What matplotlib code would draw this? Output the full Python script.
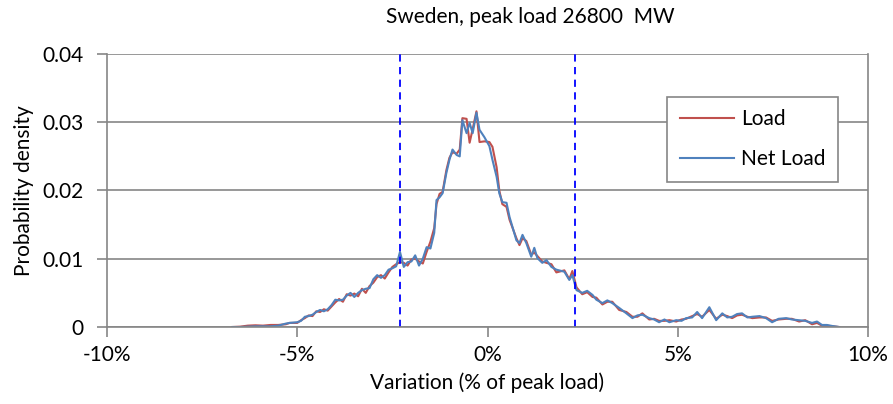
import matplotlib
matplotlib.use('Agg')
import matplotlib.pyplot as plt

# variation in % of peak load
x = [-6.7, -6.5, -6.3, -6.1, -5.9, -5.7, -5.5, -5.3, -5.2, -5.0, -4.9, -4.8, -4.7,
     -4.6, -4.5, -4.4, -4.3, -4.2, -4.1, -4.0, -3.9, -3.8, -3.7, -3.6, -3.5, -3.4,
     -3.3, -3.2, -3.1, -3.0, -2.9, -2.8, -2.7, -2.6, -2.5, -2.4, -2.3, -2.2, -2.1,
     -2.0, -1.9, -1.8, -1.7, -1.6, -1.5, -1.4, -1.34, -1.26, -1.18, -1.08, -1.0,
     -0.92, -0.81, -0.73, -0.66, -0.55, -0.47, -0.39, -0.29, -0.21, -0.08, 0.05,
     0.13, 0.24, 0.31, 0.39, 0.5, 0.58, 0.76, 0.84, 0.92, 1.02, 1.15, 1.23, 1.31,
     1.44, 1.55, 1.68, 1.81, 2.02, 2.15, 2.23, 2.34, 2.49, 2.62, 2.76, 2.86, 3.02,
     3.15, 3.28, 3.46, 3.65, 3.81, 3.94, 4.07, 4.25, 4.38, 4.51, 4.65, 4.78, 4.96,
     5.1, 5.22, 5.38, 5.51, 5.64, 5.83, 6.01, 6.17, 6.3, 6.43, 6.56, 6.69, 6.83,
     6.96, 7.15, 7.32, 7.48, 7.65, 7.85, 8.0, 8.19, 8.35, 8.53, 8.66, 8.79, 8.92,
     9.06, 9.24]

# probability density, x 1e-3
net_load = [0, 0, 0.05, 0.1, 0.1, 0.1, 0.2, 0.5, 0.6, 0.7, 0.9, 1.5, 1.6,
            1.8, 2.2, 2.5, 2.3, 2.6, 3.2, 4.0, 3.9, 4.0, 4.6, 5.0, 4.4, 5.0,
            5.4, 5.6, 5.7, 7.0, 7.6, 7.2, 7.6, 8.4, 8.6, 8.9, 11.0, 8.8, 9.5,
            9.6, 10.5, 9.0, 10.0, 11.7, 11.5, 13.8, 18.6, 19.0, 19.6, 22.6, 24.5,
            26.0, 25.2, 25.0, 30.3, 28.4, 29.9, 28.4, 31.4, 28.9, 27.8, 26.5,
            24.5, 22.0, 19.6, 18.3, 18.2, 16.1, 12.7, 12.3, 13.5, 12.3, 10.3, 11.6, 10.1,
            9.4, 9.8, 8.8, 8.4, 8.1, 6.9, 7.6, 5.4, 5.0, 5.3, 4.7, 4.0, 3.5,
            3.9, 3.5, 2.8, 2.0, 1.3, 1.7, 1.8, 1.3, 1.1, 0.7, 1.1, 0.7, 1.0,
            0.9, 1.3, 1.4, 2.2, 1.3, 2.9, 1.0, 2.0, 1.4, 1.5, 1.9, 2.0, 1.4,
            1.5, 1.6, 1.3, 0.7, 1.2, 1.3, 1.1, 1.0, 0.9, 0.6, 0.8, 0.3, 0.3,
            0.15, 0]

load = [0, 0.05, 0.2, 0.25, 0.2, 0.3, 0.3, 0.4, 0.6, 0.6, 1.0, 1.3, 1.7,
        1.6, 2.3, 2.2, 2.6, 2.4, 3.0, 3.6, 4.1, 3.7, 4.8, 4.6, 4.9, 4.5,
        5.6, 5.0, 6.0, 6.5, 7.3, 7.6, 7.1, 8.0, 8.8, 9.2, 9.5, 9.4, 9.0,
        9.9, 10.0, 9.6, 9.3, 11.0, 12.5, 14.5, 18.0, 19.5, 19.8, 23.0, 24.8,
        25.6, 25.4, 26.0, 30.6, 30.5, 27.0, 29.0, 31.6, 27.1, 27.2, 27.1,
        26.4, 23.4, 20.0, 18.0, 17.6, 15.7, 13.0, 12.0, 13.0, 12.6, 10.6, 10.9, 10.4,
        9.6, 9.4, 9.2, 8.0, 8.3, 7.0, 8.2, 5.8, 4.8, 5.1, 4.4, 4.3, 3.3,
        3.7, 3.7, 2.5, 2.2, 1.5, 1.5, 2.0, 1.1, 1.2, 0.9, 0.9, 1.0, 0.8,
        1.1, 1.2, 1.6, 1.9, 1.5, 2.5, 1.2, 1.8, 1.6, 1.3, 1.7, 1.8, 1.5,
        1.3, 1.4, 1.4, 0.9, 1.1, 1.2, 1.2, 0.8, 1.0, 0.4, 0.6, 0.2, 0.2,
        0.1, 0]

limits = [-2.3, 2.3]
x_ticks = [-10, -5, 0, 5, 10]
y_ticks = [0, 0.01, 0.02, 0.03, 0.04]

GRAY = '#868686'
FS = 15
plt.rcParams['font.family'] = ['Lato', 'DejaVu Sans']

fig = plt.figure(figsize=(8.93, 4.04), dpi=100)
ax = fig.add_axes([107 / 893, 77 / 404, 761 / 893, 273 / 404])

ax.set_xlim(-10, 10)
ax.set_ylim(0, 0.04)
ax.set_xticks(x_ticks)
ax.set_xticklabels(['{}%'.format(v) for v in x_ticks])
ax.set_yticks(y_ticks)
ax.set_yticklabels(['0', '0.01', '0.02', '0.03', '0.04'])
ax.grid(axis='y', color=GRAY, linewidth=1.2)
ax.set_axisbelow(True)
for s in ['left', 'bottom', 'right']:
    ax.spines[s].set_color(GRAY)
    ax.spines[s].set_linewidth(1.2)
ax.spines['top'].set_visible(False)
ax.tick_params(axis='both', colors=GRAY, direction='out', length=7, width=1.2,
               labelcolor='black', labelsize=FS)
ax.tick_params(axis='x', pad=6)
ax.tick_params(axis='y', pad=10)

p1, = ax.plot(x, [v / 1000 for v in load], color='#C0504D', linewidth=1.5)
p2, = ax.plot(x, [v / 1000 for v in net_load], color='#4F81BD', linewidth=1.5)
ax.vlines(limits, 0, 0.04, colors='#0000FF', linestyles=(0, (4, 3)), linewidth=1.3)

leg = ax.legend((p1, p2), ('Load', 'Net Load'), loc='upper left',
                bbox_to_anchor=(560 / 761, 230 / 273), frameon=True, fancybox=False,
                fontsize=FS, handlelength=2.6, labelspacing=0.95, borderpad=0.6,
                handletextpad=0.35, borderaxespad=0)
leg.get_frame().set_edgecolor(GRAY)
leg.get_frame().set_linewidth(1.2)
leg.get_frame().set_alpha(1)

ax.set_xlabel('Variation (% of peak load)', fontsize=FS, labelpad=5)
ax.set_ylabel('Probability density', fontsize=FS, labelpad=6)
fig.text(530 / 893, 1 - 17 / 404, 'Sweden, peak load 26800  MW', ha='center',
         va='center', fontsize=FS)

fig.savefig('out.png', dpi=100)
